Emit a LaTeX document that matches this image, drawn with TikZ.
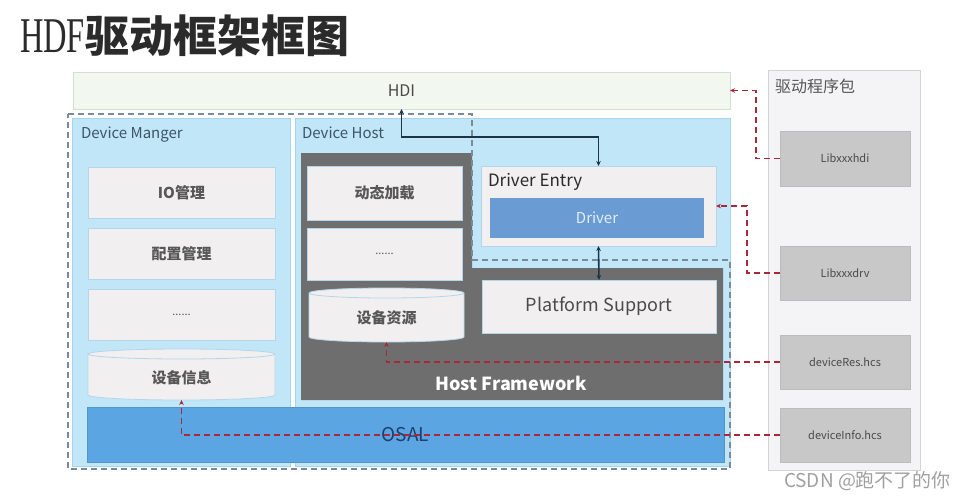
\documentclass[tikz,border=0pt]{standalone}
\usepackage{fontspec}
\setmainfont{Noto Sans CJK SC}
\newfontfamily\titlelat[FakeStretch=0.65]{Liberation Serif}
\usetikzlibrary{arrows.meta}
\definecolor{titlec}{HTML}{2B2B2B}
\definecolor{hdifill}{HTML}{F2F7EF}
\definecolor{hdidraw}{HTML}{D2E0CF}
\definecolor{panelfill}{HTML}{C0E6F8}
\definecolor{paneldraw}{HTML}{A5D4EE}
\definecolor{boxfill}{HTML}{F1EFEF}
\definecolor{boxdraw}{HTML}{B5D6EA}
\definecolor{hostgrey}{HTML}{6F6E6F}
\definecolor{drvfill}{HTML}{6A9BD3}
\definecolor{drvtext}{HTML}{E4EEF8}
\definecolor{osalfill}{HTML}{5BA6E2}
\definecolor{osaltext}{HTML}{203F6B}
\definecolor{pkgfill}{HTML}{F4F4F6}
\definecolor{pkgdraw}{HTML}{D3D3D6}
\definecolor{libfill}{HTML}{C9C8C9}
\definecolor{libdraw}{HTML}{BDBCBD}
\definecolor{labelc}{HTML}{3E5568}
\definecolor{txtc}{HTML}{4A4A4A}
\definecolor{cjkc}{HTML}{575757}
\definecolor{redc}{HTML}{A8283A}
\definecolor{navy}{HTML}{1D3447}
\definecolor{dashgrey}{HTML}{7A8A99}
\definecolor{wmark}{HTML}{A0A0A0}
\begin{document}
\begin{tikzpicture}[x=1pt,y=-1pt,
  every node/.style={inner sep=0pt, outer sep=0pt},
  nw/.style={anchor=north west},
  hdibox/.style={nw, fill=hdifill, draw=hdidraw, line width=0.8pt, text=txtc, font=\fontsize{16}{16}\selectfont},
  panel/.style={nw, fill=panelfill, draw=paneldraw, line width=0.8pt},
  graybox/.style={nw, fill=boxfill, draw=boxdraw, line width=0.8pt, text=cjkc, font=\bfseries\fontsize{15}{15}\selectfont},
  entrybox/.style={nw, fill=boxfill, draw=boxdraw, line width=0.8pt},
  libbox/.style={nw, fill=libfill, draw=libdraw, line width=0.8pt, text=txtc, font=\fontsize{11}{11}\selectfont},
  lbl/.style={anchor=base west, text=labelc, font=\fontsize{15}{15}\selectfont},
  arrowline/.style={draw=navy, line width=1.6pt, {Stealth[length=5pt,width=4.5pt]}-{Stealth[length=5pt,width=4.5pt]}},
  redline/.style={draw=redc, line width=1.7pt, dash pattern=on 6pt off 4pt, -{Stealth[length=5pt,width=4.5pt]}},
  cylfill/.style={fill=boxfill, draw=boxdraw, line width=0.8pt}
]
\useasboundingbox (0,0) rectangle (970,498);
\fill[white] (0,0) rectangle (970,498);

% title
\node[anchor=base west, text=titlec] (title) at (20,52)
  {{\titlelat\fontsize{50}{50}\selectfont HDF}{\bfseries\fontsize{44}{44}\selectfont 驱动框架框图}};

% HDI
\node[hdibox, minimum width=657, minimum height=37] (hdi) at (73,72) {HDI};

% driver package panel
\node[nw, fill=pkgfill, draw=pkgdraw, line width=0.8pt, minimum width=152, minimum height=400] (pkg) at (768,70) {};
\node[anchor=base west, text=cjkc, font=\fontsize{16}{16}\selectfont] (pkgt) at (775,92) {驱动程序包};
\node[libbox, minimum width=130, minimum height=55] (lhdi) at (780,131) {Libxxxhdi};
\node[libbox, minimum width=130, minimum height=54] (ldrv) at (780,246) {Libxxxdrv};
\node[libbox, minimum width=130, minimum height=54] (lres) at (780,335) {deviceRes.hcs};
\node[libbox, minimum width=130, minimum height=54] (linfo) at (780,408) {deviceInfo.hcs};

% panels
\node[panel, minimum width=218, minimum height=348] (dm) at (72,118) {};
\node[panel, minimum width=435, minimum height=348] (dh) at (295,118) {};
\node[lbl] (dmt) at (81,138) {Device Manger};
\node[lbl] (dht) at (302,138) {Device Host};

% host framework grey area
\fill[hostgrey] (301,153) -- (472,153) -- (472,268) -- (723,268) -- (723,400) -- (301,400) -- cycle;
\node[text=white, font=\bfseries\fontsize{18}{18}\selectfont] (hfw) at (511,383) {Host Framework};

% dashed outline
\draw[dashgrey, line width=1.2pt, dash pattern=on 6pt off 4pt]
  (68,114) -- (472,114) -- (472,260) -- (730,260) -- (730,469) -- (68,469) -- cycle;

% device manager boxes
\node[graybox, minimum width=187, minimum height=51] (io) at (88,167) {IO管理};
\node[graybox, minimum width=187, minimum height=51] (cfg) at (88,228) {配置管理};
\node[graybox, minimum width=187, minimum height=51, font=\fontsize{11}{11}\selectfont] (dots1) at (88,289) {......};
\node[nw, minimum width=187, minimum height=51] (info) at (88,349) {};
\draw[cylfill] ([yshift=-5pt]info.north west) -- ([yshift=5pt]info.south west)
  arc[start angle=180, end angle=360, x radius=93.5pt, y radius=5pt]
  -- ([yshift=-5pt]info.north east)
  arc[start angle=0, end angle=180, x radius=93.5pt, y radius=5pt] -- cycle;
\draw[draw=boxdraw, line width=0.8pt] ([yshift=-5pt]info.north west)
  arc[start angle=180, end angle=360, x radius=93.5pt, y radius=5pt];
\node[text=cjkc, font=\bfseries\fontsize{15}{15}\selectfont] at ([yshift=-3pt]info.center) {设备信息};

% device host boxes
\node[graybox, minimum width=155, minimum height=54] (dyn) at (307,166) {动态加载};
\node[graybox, minimum width=155, minimum height=52, font=\fontsize{11}{11}\selectfont] (dots2) at (307,228) {......};
\node[nw, minimum width=155, minimum height=54] (res) at (309,288) {};
\draw[cylfill] ([yshift=-5pt]res.north west) -- ([yshift=5pt]res.south west)
  arc[start angle=180, end angle=360, x radius=77.5pt, y radius=5pt]
  -- ([yshift=-5pt]res.north east)
  arc[start angle=0, end angle=180, x radius=77.5pt, y radius=5pt] -- cycle;
\draw[draw=boxdraw, line width=0.8pt] ([yshift=-5pt]res.north west)
  arc[start angle=180, end angle=360, x radius=77.5pt, y radius=5pt];
\node[text=cjkc, font=\bfseries\fontsize{15}{15}\selectfont] at ([yshift=-3pt]res.center) {设备资源};

\node[entrybox, minimum width=235, minimum height=80] (de) at (481,166) {};
\node[anchor=base west, text=titlec, font=\fontsize{17}{17}\selectfont] (det) at (488,186) {Driver Entry};
\node[nw, fill=drvfill, minimum width=214, minimum height=40, text=drvtext, font=\fontsize{15}{15}\selectfont] (drv) at (490,198) {Driver};
\node[nw, fill=boxfill, draw=boxdraw, line width=0.8pt, minimum width=234, minimum height=53, text=txtc, font=\fontsize{18}{18}\selectfont] (ps) at (482,280) {Platform Support};

% OSAL
\node[nw, fill=osalfill, draw=osalfill!90!black, line width=0.6pt, minimum width=637, minimum height=55, text=osaltext, font=\fontsize{19}{19}\selectfont] (osal) at (87,407) {OSAL};

% black connectors
\draw[arrowline] (hdi.south) -- ++(0,28) -| (de.north);
\draw[arrowline] (de.south) -- (ps.north);

% red dashed connectors
\draw[redline] (lhdi.west) -- ++(-24,0) |- (hdi.east);
\draw[redline] (ldrv.west) -- ++(-33,0) |- (de.east);
\draw[redline] (lres.west) -| (res.south);
\draw[redline] (linfo.west) -| (info.south);

% watermark
\node[anchor=base west, text=wmark, font=\fontsize{19}{19}\selectfont] (wm) at (784,487) {CSDN @跑不了的你};
\end{tikzpicture}
\end{document}
